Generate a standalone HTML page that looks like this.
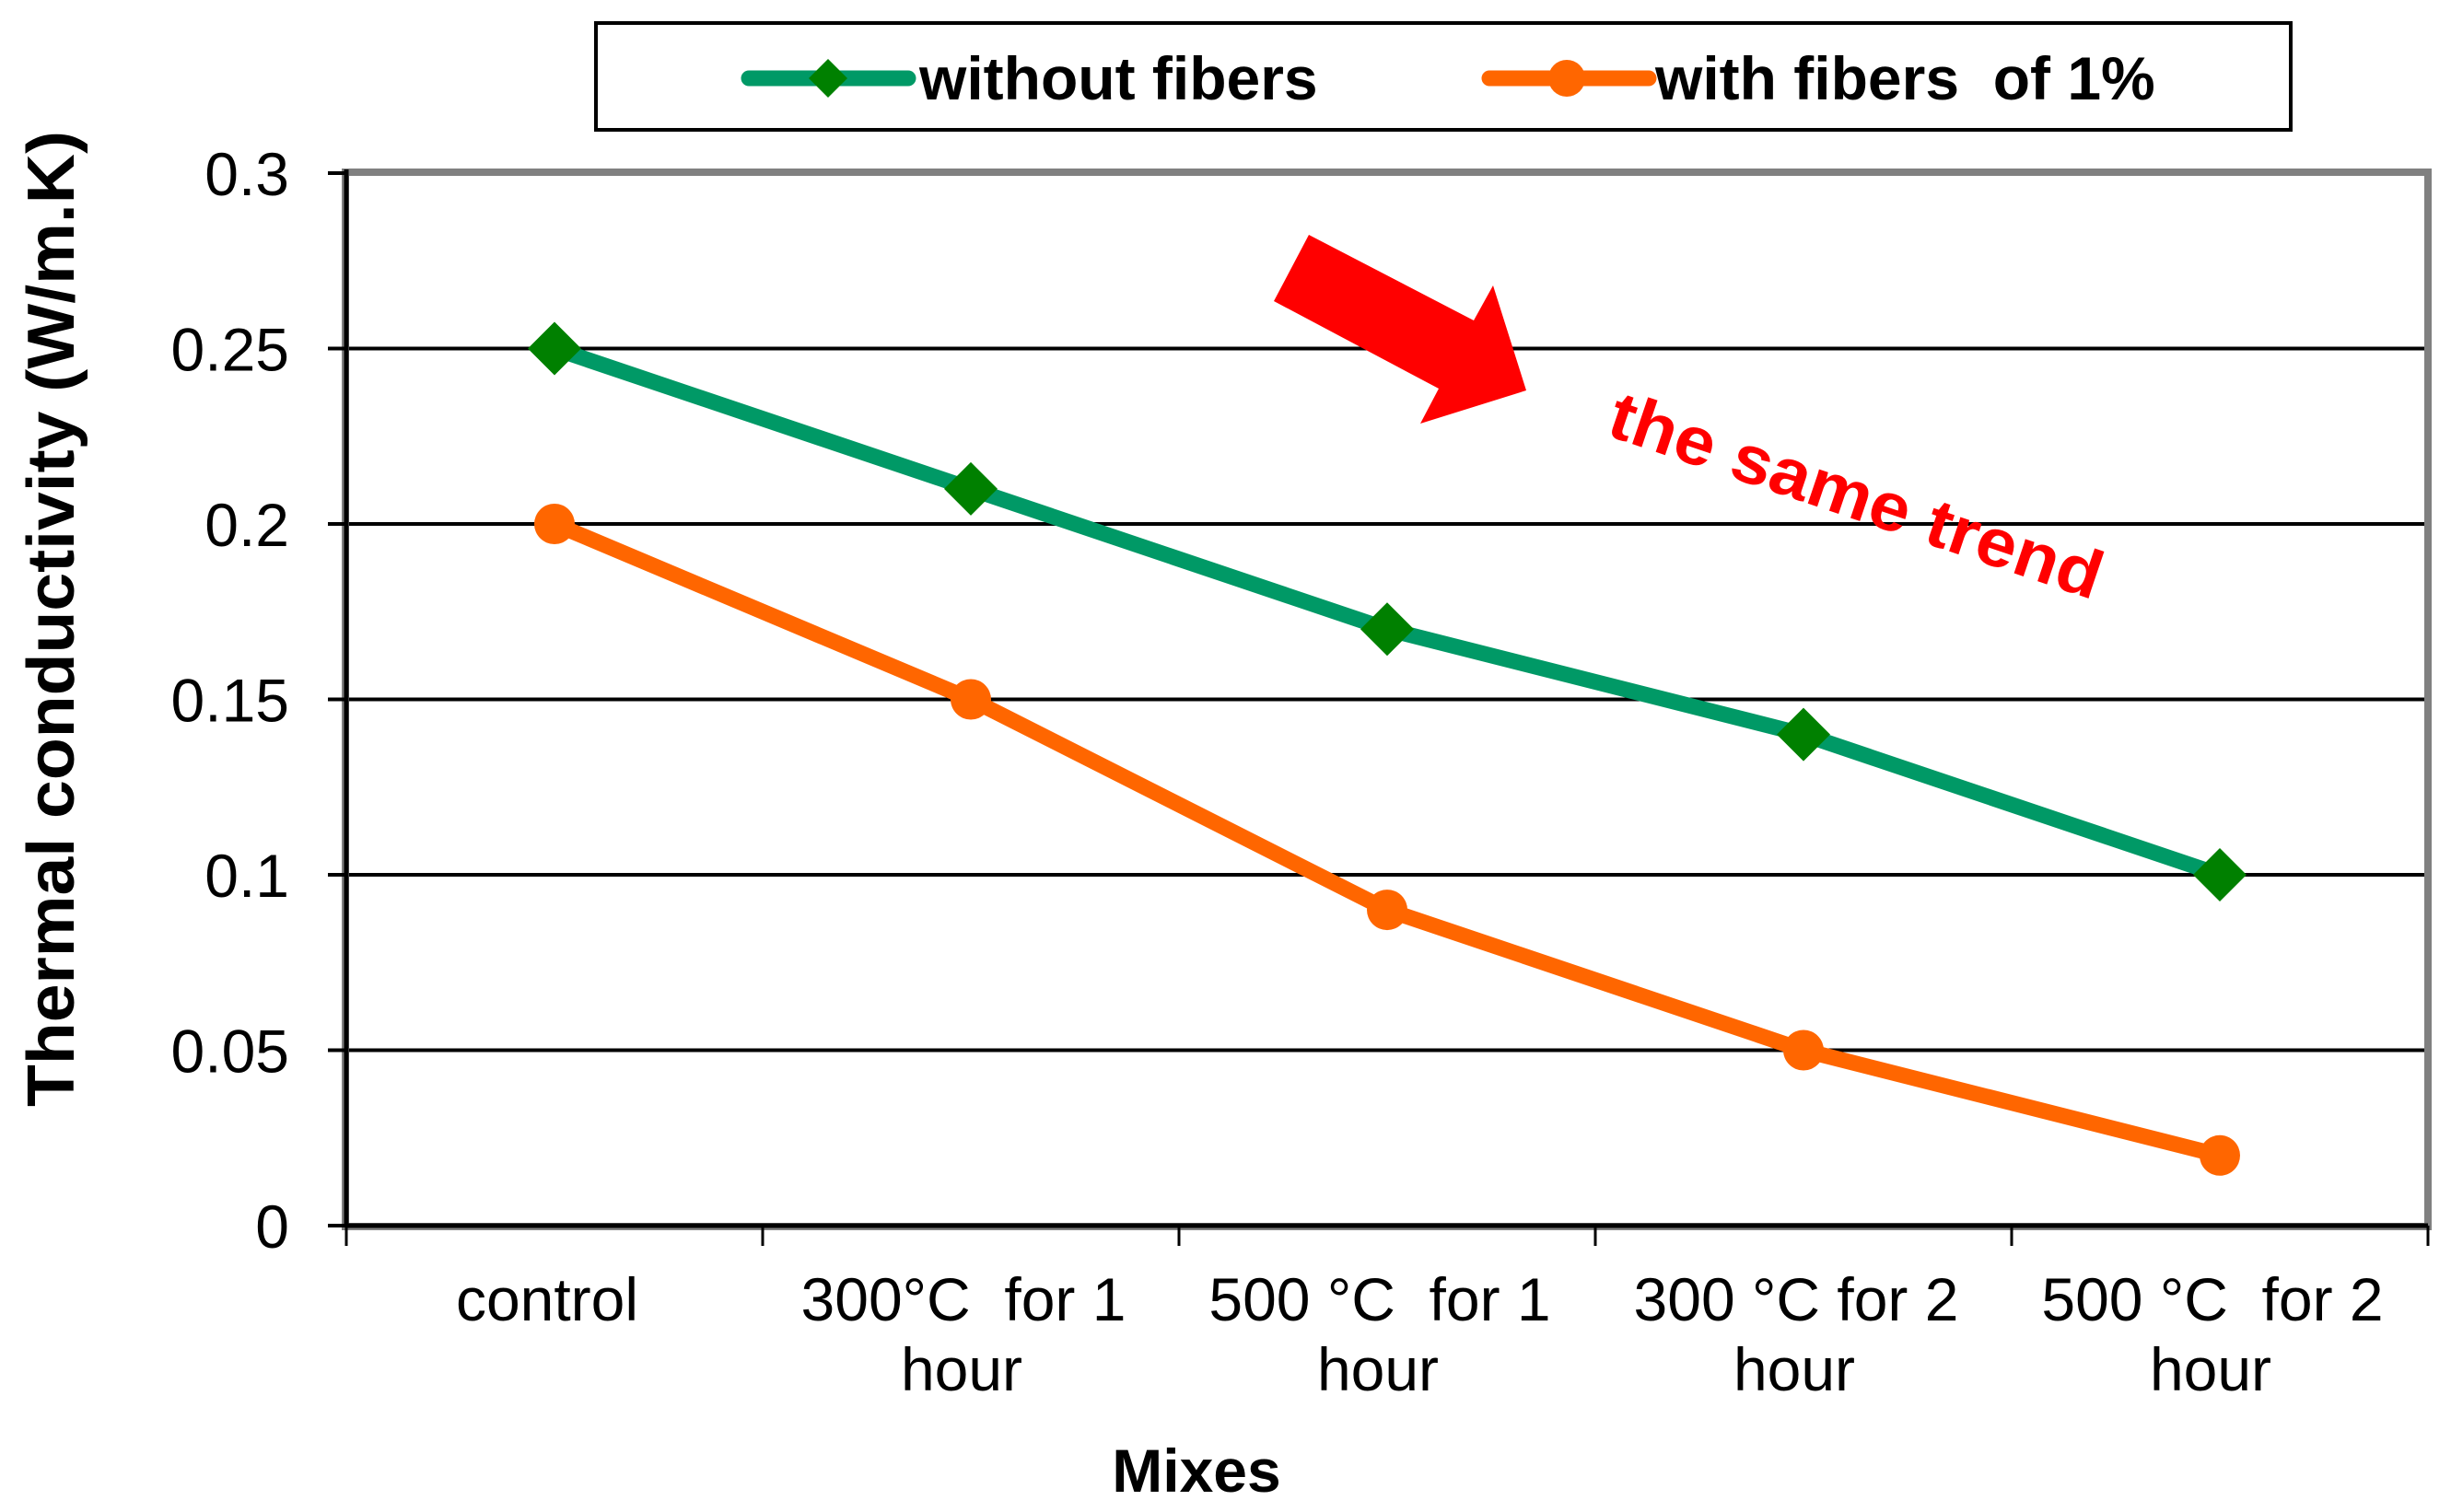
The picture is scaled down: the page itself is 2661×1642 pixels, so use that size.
<!DOCTYPE html>
<html><head><meta charset="utf-8"><style>
html,body{margin:0;padding:0;background:#fff}
svg{display:block}
text{font-family:"Liberation Sans",Arial,sans-serif;white-space:pre}
</style></head><body>
<svg id="chart" width="2661" height="1642" viewBox="0 0 2661 1642" xmlns="http://www.w3.org/2000/svg">
<g>
<rect x="647" y="25" width="1840" height="116" fill="#fff" stroke="#000" stroke-width="4"/>
<g>
<line x1="813" y1="85" x2="986" y2="85" stroke="#009966" stroke-width="17" stroke-linecap="round"/>
<polygon points="899,64 920,85 899,106 878,85" fill="#008000"/>
<text x="998" y="108" font-size="66" font-weight="bold">without fibers</text>
</g>
<g>
<line x1="1617" y1="85" x2="1790" y2="85" stroke="#FF6600" stroke-width="17" stroke-linecap="round"/>
<circle cx="1701" cy="85" r="20" fill="#FF6600"/>
<text x="1797" y="108" font-size="66" font-weight="bold">with fibers  of 1%</text>
</g>
</g>
<g id="grid"></g>
<rect x="375" y="187" width="2261" height="1145" fill="none" stroke="#808080" stroke-width="8"/>
<g id="axes"></g>
<g id="series"></g>
<polygon points="1421,255 1600,348 1621,310 1657,424 1542,460 1562,422 1383,327" fill="#FF0000"/>
<text x="1742" y="472" font-size="74" font-weight="bold" fill="#FF0000" textLength="560" lengthAdjust="spacingAndGlyphs" transform="rotate(18.7 1742 472)">the same trend</text>
<text x="0" y="0" font-size="72" font-weight="bold" text-anchor="middle" textLength="1060" lengthAdjust="spacingAndGlyphs" transform="translate(80 672) rotate(-90)">Thermal conductivity (W/m.K)</text>
<text x="1299" y="1620" font-size="66" font-weight="bold" text-anchor="middle">Mixes</text>
</svg>
<script>
const categories = [["control",""],["300°C  for 1","hour"],["500 °C  for 1","hour"],["300 °C for 2","hour"],["500 °C  for 2","hour"]];
const withoutFibers = [0.25,0.21,0.17,0.14,0.10];
const withFibers = [0.20,0.15,0.09,0.05,0.02];
const yTicks = [0,0.05,0.1,0.15,0.2,0.25,0.3];
const yTickLabels = ["0","0.05","0.1","0.15","0.2","0.25","0.3"];

const NS="http://www.w3.org/2000/svg";
const X0=376,X1=2636,Y0=1331,Y1=188,YMAX=0.3;
const cw=(X1-X0)/categories.length;
function xs(i){return X0+cw*(i+0.5);}
function ys(v){return Y0-(v/YMAX)*(Y0-Y1);}
function mk(tag,attrs,parent){const e=document.createElementNS(NS,tag);for(const k in attrs)e.setAttribute(k,attrs[k]);parent.appendChild(e);return e;}
const grid=document.getElementById('grid'),axes=document.getElementById('axes'),series=document.getElementById('series');
yTicks.forEach((t,i)=>{
  const y=ys(t);
  if(t>0&&t<YMAX){const g=mk('line',{x1:X0,y1:y,x2:X1,y2:y,stroke:'#000','stroke-width':4},grid);
  
  }
  const tk=mk('line',{x1:356,y1:y,x2:X0,y2:y,stroke:'#000','stroke-width':4},axes);
  
  
  const lb=mk('text',{x:314,y:y+24,'font-size':66,'text-anchor':'end'},axes);
  lb.textContent=yTickLabels[i];
  
  
});
const ax=mk('line',{x1:X0,y1:Y1-4,x2:X0,y2:Y0,stroke:'#000','stroke-width':5},axes);


const bx=mk('line',{x1:X0,y1:Y0,x2:X1,y2:Y0,stroke:'#000','stroke-width':5},axes);


for(let i=0;i<=categories.length;i++){
  const x=X0+cw*i;
  const t=mk('line',{x1:x,y1:Y0,x2:x,y2:Y0+22,stroke:'#000','stroke-width':3},axes);
  
  
}
categories.forEach((c,i)=>{
  const t=mk('text',{x:xs(i)-8,y:1434,'font-size':66,'text-anchor':'middle'},axes);
  t.textContent=c[0];
  
  
  if(c[1]){const t2=mk('text',{x:xs(i)-10,y:1510,'font-size':66,'text-anchor':'middle'},axes);
  t2.textContent=c[1];
  
  }
});
function drawLine(vals,color,name){
  const p=mk('polyline',{points:vals.map((v,i)=>xs(i)+','+ys(v)).join(' '),fill:'none',stroke:color,'stroke-width':17,'stroke-linejoin':'round'},series);
  
  
}
drawLine(withoutFibers,'#009966','line-without-fibers');
drawLine(withFibers,'#FF6600','line-with-fibers');
withoutFibers.forEach((v,i)=>{
  const x=xs(i),y=ys(v),r=29;
  const d=mk('polygon',{points:`${x},${y-r} ${x+r},${y} ${x},${y+r} ${x-r},${y}`,fill:'#008000'},series);
  
  
});
withFibers.forEach((v,i)=>{
  const c=mk('circle',{cx:xs(i),cy:ys(v),r:22,fill:'#FF6600'},series);
  
  
});
</script>
</body></html>
